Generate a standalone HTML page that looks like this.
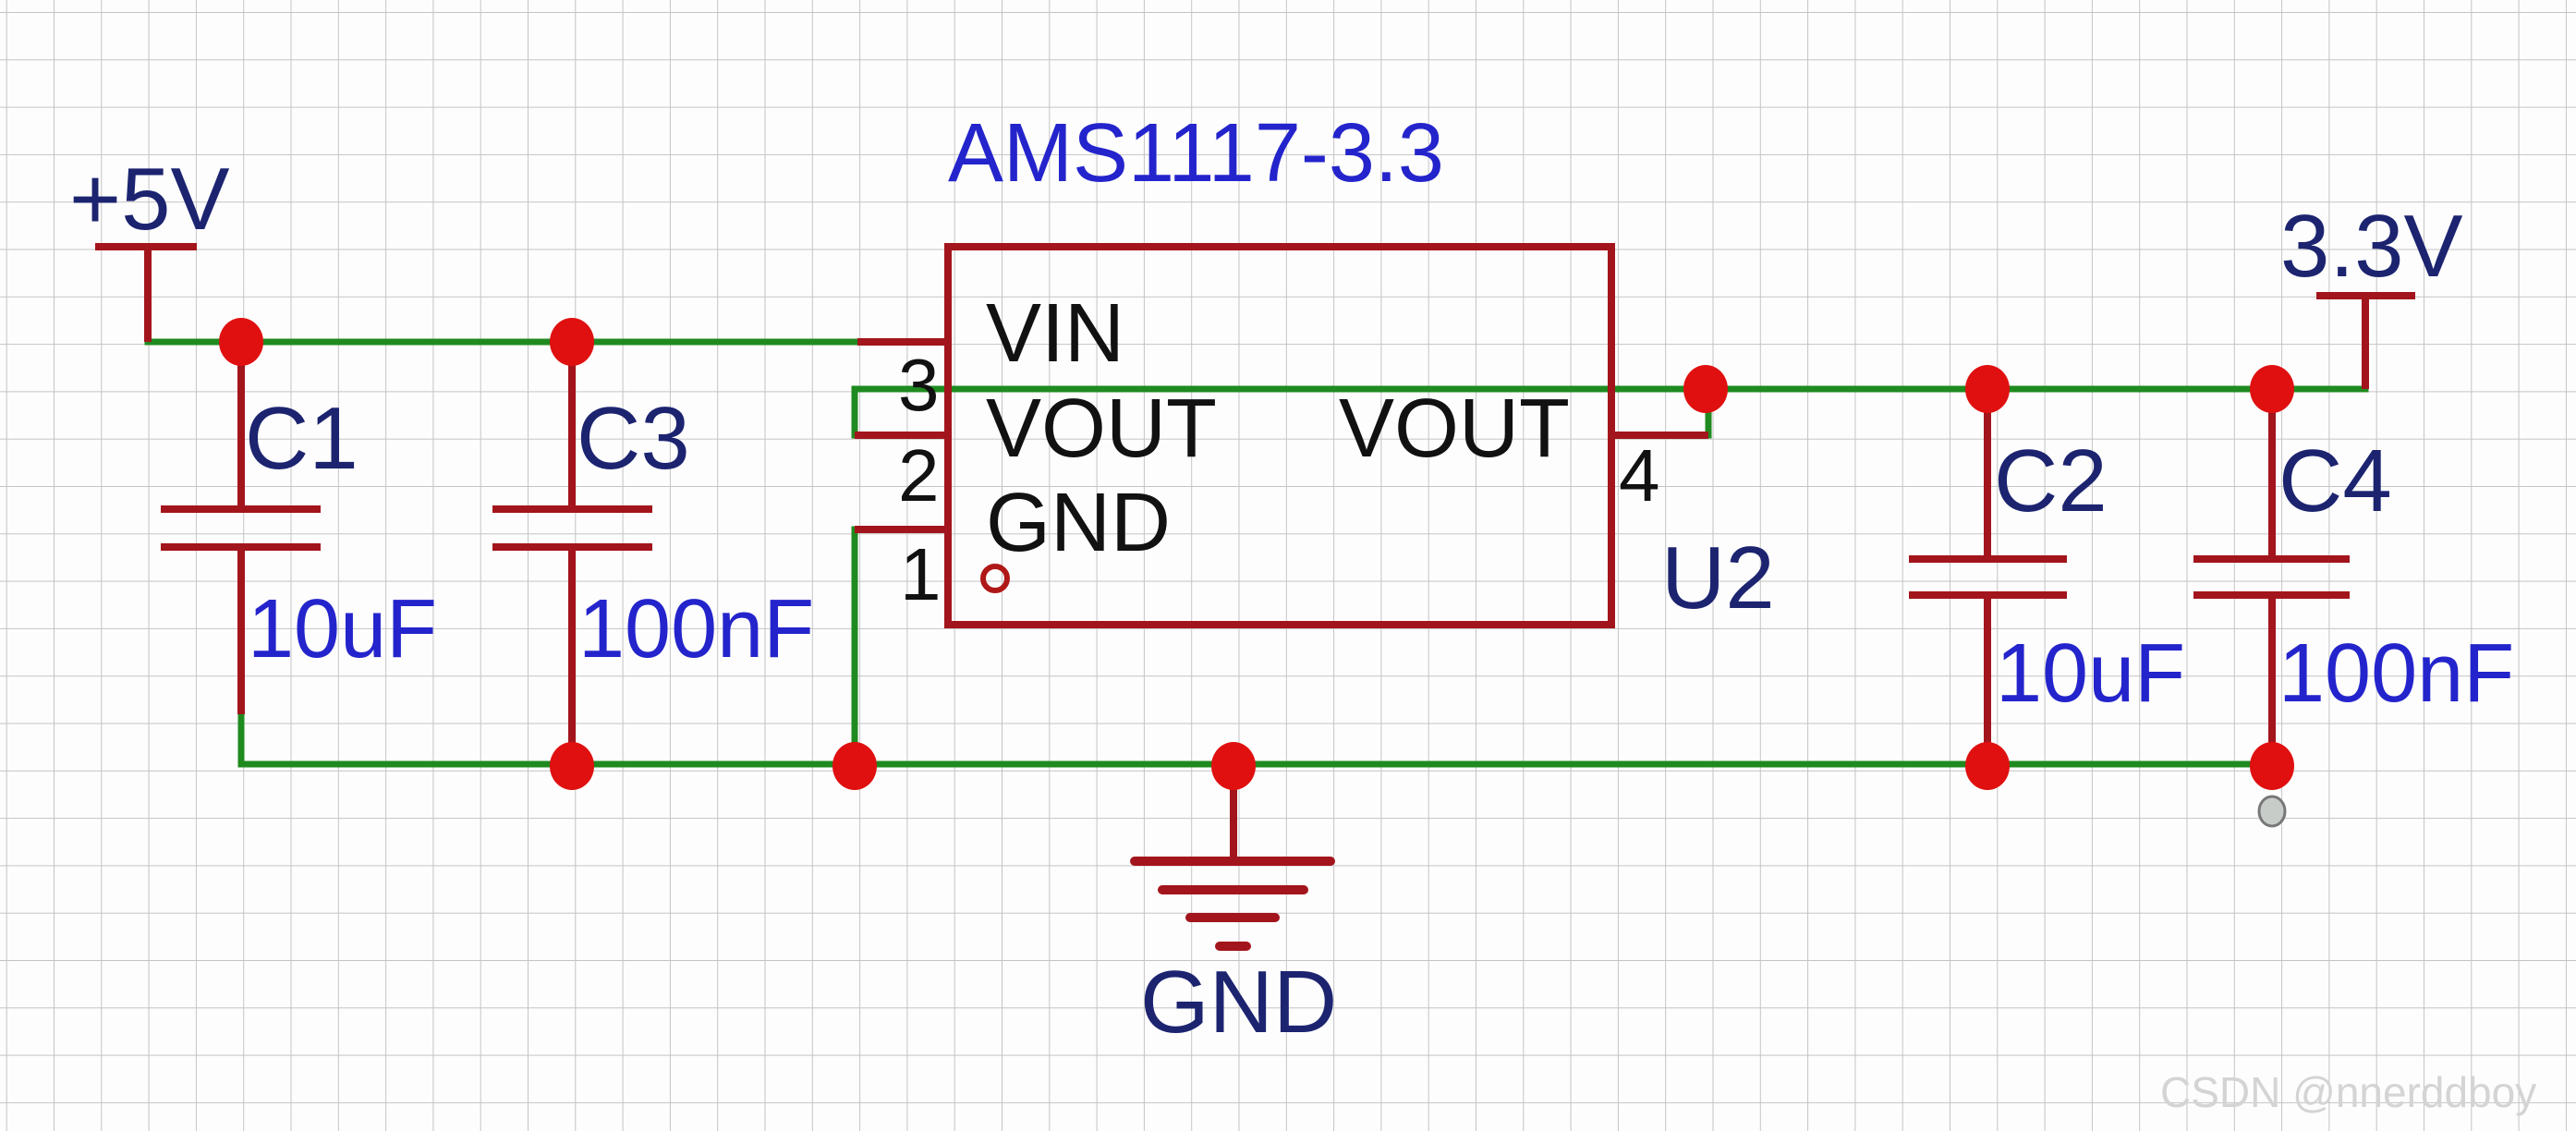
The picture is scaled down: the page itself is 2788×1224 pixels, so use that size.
<!DOCTYPE html>
<html><head><meta charset="utf-8"><style>
html,body{margin:0;padding:0;background:#fff;}
svg{display:block;}
text{font-family:"Liberation Sans",Arial,sans-serif;}
</style></head><body>
<svg width="2788" height="1224" viewBox="0 0 2788 1224" xmlns="http://www.w3.org/2000/svg">
<defs>
<pattern id="g" x="6.7" y="13" width="51.3" height="51.3" patternUnits="userSpaceOnUse">
<path d="M0 0H51.3M0 0V51.3" stroke="#c4c4c4" stroke-width="2" fill="none"/>
</pattern>
</defs>
<rect width="2788" height="1224" fill="#fdfdfd"/>
<rect width="2788" height="1224" fill="url(#g)"/>

<!-- green wires -->
<g stroke="#1f8a1f" stroke-width="7" fill="none" stroke-linecap="square">
<path d="M160 370H928"/>
<path d="M925 471V421H2560V320"/>
<path d="M1849 471V421"/>
<path d="M261 773V827H2459"/>
<path d="M925 827V573"/>
</g>

<!-- red wires -->
<g stroke="#a3151c" stroke-width="8" fill="none">
<path d="M103 267H213M160 267V370"/>
<path d="M2507 320H2614M2560 320V421"/>
<path d="M928 370H1026M925 471H1026M925 573H1026M1744 471H1849"/>
<rect x="1026" y="267" width="718" height="409"/>
<path d="M261 370V551M261 592V773M174 551H347M174 592H347"/>
<path d="M619 370V551M619 592V827M533 551H706M533 592H706"/>
<path d="M2151 421V605M2151 644V827M2066 605H2237M2066 644H2237"/>
<path d="M2459 421V605M2459 644V827M2374 605H2543M2374 644H2543"/>
<path d="M1335 827V932"/>
<path d="M1228 932H1440M1258 963H1411M1288 993H1380M1320 1024H1349" stroke-width="10" stroke-linecap="round"/>
</g>
<circle cx="1077" cy="626" r="13" fill="none" stroke="#b01818" stroke-width="6"/>

<!-- dots -->
<g fill="#e01010">
<ellipse cx="261" cy="370" rx="24" ry="26"/>
<ellipse cx="619" cy="370" rx="24" ry="26"/>
<ellipse cx="1846" cy="421" rx="24" ry="26"/>
<ellipse cx="2151" cy="421" rx="24" ry="26"/>
<ellipse cx="2459" cy="421" rx="24" ry="26"/>
<ellipse cx="619" cy="829" rx="24" ry="26"/>
<ellipse cx="925" cy="829" rx="24" ry="26"/>
<ellipse cx="1335" cy="829" rx="24" ry="26"/>
<ellipse cx="2151" cy="829" rx="24" ry="26"/>
<ellipse cx="2459" cy="829" rx="24" ry="26"/>
</g>
<ellipse cx="2459" cy="878" rx="14" ry="16" fill="#c8ccc8" stroke="#777" stroke-width="3"/>

<!-- labels -->
<g font-size="96" fill="#1c2470">
<text x="75" y="248">+5V</text>
<text x="2468" y="299">3.3V</text>
<text x="265" y="507">C1</text>
<text x="624" y="507">C3</text>
<text x="2158" y="553">C2</text>
<text x="2466" y="553">C4</text>
<text x="1234" y="1117">GND</text>
<text x="1798" y="658">U2</text>
</g>
<g font-size="90" fill="#2424cc">
<text x="1026" y="196">AMS1117-3.3</text>
<text x="268" y="711">10uF</text>
<text x="626" y="711">100nF</text>
<text x="2160" y="759">10uF</text>
<text x="2466" y="759">100nF</text>
</g>
<g font-size="90" fill="#111">
<text x="1067" y="391">VIN</text>
<text x="1067" y="494">VOUT</text>
<text x="1449" y="494">VOUT</text>
<text x="1067" y="596">GND</text>
<text x="972" y="444" font-size="80">3</text>
<text x="972" y="542" font-size="80">2</text>
<text x="974" y="649" font-size="80">1</text>
<text x="1752" y="542" font-size="80">4</text>
</g>
<text x="2338" y="1198" font-size="46" fill="#d4d4d4">CSDN @nnerddboy</text>
</svg>
</body></html>
